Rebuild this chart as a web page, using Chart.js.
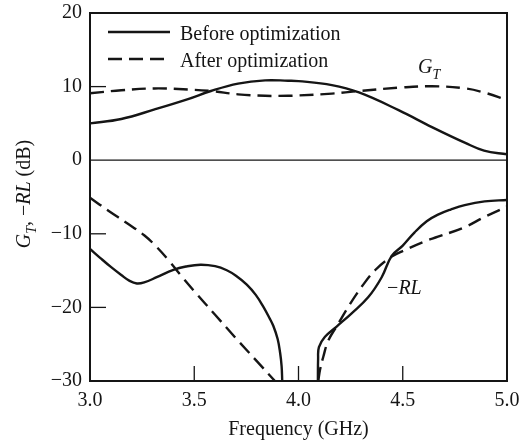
<!DOCTYPE html>
<html>
<head>
<meta charset="utf-8">
<script src="https://cdn.jsdelivr.net/npm/chart.js@4.4.1/dist/chart.umd.min.js"></script>
<style>
  html, body { margin: 0; padding: 0; background: #fff; }
  #wrap { width: 520px; height: 444px; }
</style>
</head>
<body>
<div id="wrap"><canvas id="chart" width="520" height="444"></canvas></div>
<script>
// G_T curves (dB)
const gtBeforeF  = [3.0, 3.15, 3.31, 3.47, 3.58, 3.71, 3.84, 3.95, 4.0, 4.16, 4.29, 4.48, 4.64, 4.8, 4.89, 5.0];
const gtBeforeDb = [5.0, 5.6, 6.9, 8.3, 9.4, 10.4, 10.85, 10.8, 10.75, 10.2, 9.2, 6.8, 4.5, 2.35, 1.3, 0.8];
const gtAfterF   = [3.0, 3.15, 3.31, 3.47, 3.58, 3.71, 3.84, 3.95, 4.0, 4.16, 4.29, 4.48, 4.64, 4.8, 4.89, 5.0];
const gtAfterDb  = [9.1, 9.5, 9.75, 9.6, 9.4, 8.95, 8.75, 8.75, 8.8, 9.05, 9.4, 9.85, 10.05, 9.75, 9.2, 8.2];

// -RL curves (dB), each split in two branches around the deep null
const rlBeforeLoF  = [3.0, 3.05, 3.10, 3.15, 3.19, 3.225, 3.26, 3.32, 3.40, 3.46, 3.53, 3.60, 3.656, 3.70, 3.752, 3.795, 3.831, 3.86, 3.879, 3.90, 3.912, 3.919, 3.922];
const rlBeforeLoDb = [-12.05, -13.3, -14.5, -15.6, -16.4, -16.75, -16.6, -15.9, -14.9, -14.45, -14.2, -14.4, -14.95, -15.7, -16.9, -18.3, -19.9, -21.4, -22.5, -24.3, -26.2, -28.0, -30];
const rlBeforeHiF  = [4.093, 4.094, 4.098, 4.127, 4.183, 4.255, 4.335, 4.399, 4.447, 4.50, 4.557, 4.615, 4.669, 4.73, 4.797, 4.893, 5.0];
const rlBeforeHiDb = [-30, -27.0, -25.4, -24.0, -22.6, -20.8, -18.6, -15.9, -13.0, -11.6, -9.8, -8.3, -7.4, -6.7, -6.1, -5.6, -5.4];
const rlAfterLoF   = [3.0, 3.09, 3.18, 3.26, 3.32, 3.38, 3.44, 3.50, 3.60, 3.70, 3.80, 3.887];
const rlAfterLoDb  = [-5.1, -6.9, -8.6, -10.2, -11.8, -13.7, -15.8, -17.8, -21.0, -24.2, -27.3, -30];
const rlAfterHiF   = [4.095, 4.103, 4.119, 4.143, 4.191, 4.239, 4.303, 4.367, 4.447, 4.511, 4.599, 4.669, 4.797, 4.893, 5.0];
const rlAfterHiDb  = [-30, -28.5, -26.7, -24.5, -22.2, -19.9, -17.2, -14.95, -13.1, -12.2, -11.1, -10.4, -9.1, -7.7, -6.3];

const xTickMarks = [3.5, 4.0, 4.5];
const yTickMarks = [10, -10, -20];
const legendLabels = ['Before optimization', 'After optimization'];

const ink = '#151515';
const serif = '"Liberation Serif", "Times New Roman", serif';
const dash = [14, 7];

function pts(xs, ys) {
  return xs.map((x, i) => ({ x: x, y: ys[i] }));
}

function curve(xs, ys, dashed) {
  return {
    data: pts(xs, ys),
    showLine: true,
    borderColor: ink,
    borderWidth: 2.4,
    borderDash: dashed ? dash : [],
    pointRadius: 0,
    tension: 0.4,
    fill: false,
  };
}

function drawRich(ctx, parts, x, y) {
  // parts: [text, font, dy]
  let cx = x;
  parts.forEach(([t, f, dy]) => {
    ctx.font = f;
    ctx.fillText(t, cx, y + (dy || 0));
    cx += ctx.measureText(t).width;
  });
  return cx - x;
}

function richWidth(ctx, parts) {
  let w = 0;
  parts.forEach(([t, f]) => { ctx.font = f; w += ctx.measureText(t).width; });
  return w;
}

// no extra room for overhanging tick labels, the plot box is fixed
function noPad(scale) {
  scale.paddingTop = 0;
  scale.paddingBottom = 0;
  scale.paddingLeft = 0;
  scale.paddingRight = 0;
}

const overlay = {
  id: 'overlay',
  afterDatasetsDraw(chart) {
    const { ctx, chartArea: a, scales: { x, y } } = chart;
    ctx.save();
    ctx.strokeStyle = ink;
    ctx.fillStyle = ink;
    ctx.setLineDash([]);

    // 0 dB line
    const y0 = y.getPixelForValue(0);
    ctx.lineWidth = 1.2;
    ctx.beginPath();
    ctx.moveTo(a.left, y0);
    ctx.lineTo(a.right, y0);
    ctx.stroke();

    // frame
    ctx.lineWidth = 2;
    ctx.strokeRect(a.left, a.top, a.width, a.height);

    // inward tick marks
    ctx.lineWidth = 1.3;
    yTickMarks.forEach(v => {
      const py = y.getPixelForValue(v);
      ctx.beginPath();
      ctx.moveTo(a.left, py);
      ctx.lineTo(a.left + 16, py);
      ctx.stroke();
    });
    xTickMarks.forEach(v => {
      const px = x.getPixelForValue(v);
      ctx.beginPath();
      ctx.moveTo(px, a.bottom);
      ctx.lineTo(px, a.bottom - 15);
      ctx.stroke();
    });

    // legend
    ctx.lineWidth = 2.4;
    ctx.font = '20px ' + serif;
    ctx.textBaseline = 'alphabetic';
    legendLabels.forEach((lab, i) => {
      const ly = a.top + 19 + i * 27;
      ctx.setLineDash(i === 1 ? dash : []);
      ctx.beginPath();
      ctx.moveTo(a.left + 18, ly);
      ctx.lineTo(a.left + 80, ly);
      ctx.stroke();
      ctx.setLineDash([]);
      ctx.fillText(lab, a.left + 90, ly + 8);
    });

    // curve labels
    const it = 'italic 20px ' + serif;
    const sub = 'italic 14px ' + serif;
    const rm = '20px ' + serif;
    drawRich(ctx, [['G', it], ['T', sub, 6]], x.getPixelForValue(4.573), y.getPixelForValue(11.9));
    drawRich(ctx, [['\u2212', rm], ['RL', it]], x.getPixelForValue(4.425), y.getPixelForValue(-18.2));

    // y axis title, rotated
    const title = [['G', it], ['T', sub, 6], [', ', rm], ['\u2212', rm], ['RL', it], [' (dB)', rm]];
    const w = richWidth(ctx, title);
    ctx.translate(30, 194);
    ctx.rotate(-Math.PI / 2);
    drawRich(ctx, title, -w / 2, 0);

    ctx.restore();
  }
};

new Chart(document.getElementById('chart'), {
  type: 'scatter',
  data: {
    datasets: [
      curve(gtBeforeF, gtBeforeDb, false),
      curve(gtAfterF, gtAfterDb, true),
      curve(rlBeforeLoF, rlBeforeLoDb, false),
      curve(rlBeforeHiF, rlBeforeHiDb, false),
      curve(rlAfterLoF, rlAfterLoDb, true),
      curve(rlAfterHiF, rlAfterHiDb, true),
    ]
  },
  options: {
    responsive: false,
    animation: false,
    devicePixelRatio: 1,
    layout: { padding: { top: 13, right: 13, left: 0, bottom: 0 } },
    plugins: { legend: { display: false }, tooltip: { enabled: false } },
    scales: {
      x: {
        type: 'linear',
        min: 3, max: 5,
        grid: { display: false, drawTicks: false },
        border: { display: false },
        ticks: {
          stepSize: 0.5,
          color: ink,
          padding: 8,
          maxRotation: 0,
          font: { family: serif, size: 20 },
          callback: v => v.toFixed(1),
        },
        title: {
          display: true,
          text: 'Frequency (GHz)',
          color: ink,
          font: { family: serif, size: 20 },
          padding: { top: 0, bottom: 2 },
        },
        afterFit(scale) { scale.height = 63; noPad(scale); },
      },
      y: {
        type: 'linear',
        min: -30, max: 20,
        grid: { display: false, drawTicks: false },
        border: { display: false },
        ticks: {
          stepSize: 10,
          color: ink,
          padding: 8,
          font: { family: serif, size: 20 },
          callback: v => (v < 0 ? '\u2212' + Math.abs(v) : String(v)),
        },
        afterFit(scale) { scale.width = 90; noPad(scale); },
      }
    }
  },
  plugins: [overlay]
});
</script>
</body>
</html>
